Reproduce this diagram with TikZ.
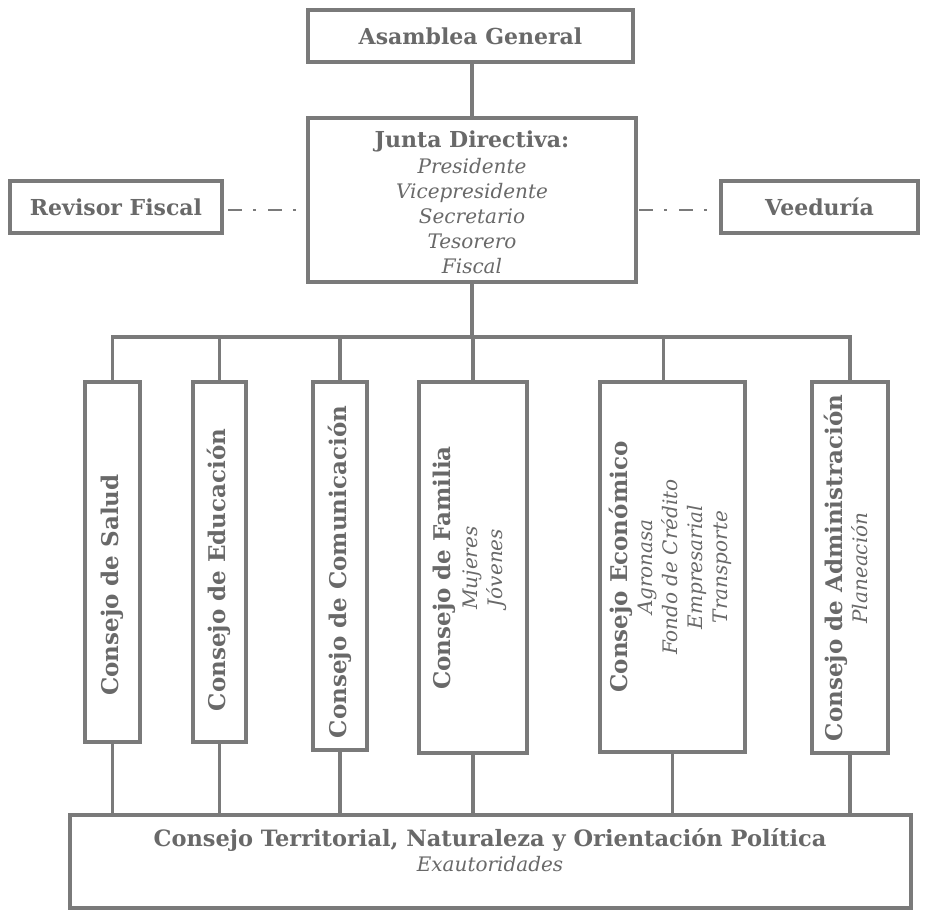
\documentclass[tikz,border=0pt]{standalone}
\usepackage{fontspec}
\setmainfont{DejaVu Serif}
\definecolor{linegray}{RGB}{122,122,122}
\definecolor{textgray}{RGB}{105,105,105}
\tikzset{
  box/.style={draw=linegray, line width=3.7pt, fill=white, inner sep=0pt, outer sep=0pt, rectangle},
  conn/.style={draw=linegray, line width=3.7pt},
  dashdotconn/.style={draw=linegray, line width=2.5pt, dash pattern=on 14pt off 11pt on 3pt off 12pt},
  ttl/.style={text=textgray, font=\fontsize{22}{25}\selectfont\bfseries, align=center, inner sep=0pt},
  vtxt/.style={text=textgray, font=\fontsize{23}{25}\selectfont, align=center, inner sep=0pt, rotate=90},
}
\newcommand{\sub}[1]{{\fontsize{20}{24}\selectfont\mdseries\itshape #1}}
\begin{document}
\begin{tikzpicture}[x=1pt,y=-1pt]
\useasboundingbox (0,0) rectangle (928,911);
% boxes
\node[box, minimum width=325pt, minimum height=52pt] (asamblea) at (470.5,36) {};
\node[box, minimum width=328pt, minimum height=164pt] (junta) at (472,200) {};
\node[box, minimum width=212pt, minimum height=52pt] (revisor) at (116,207) {};
\node[box, minimum width=197pt, minimum height=52pt] (veeduria) at (819.5,207) {};
\node[box, minimum width=55pt, minimum height=360pt] (salud) at (112.5,562) {};
\node[box, minimum width=53pt, minimum height=360pt] (educ) at (219.5,562) {};
\node[box, minimum width=54pt, minimum height=368pt] (comun) at (340,566) {};
\node[box, minimum width=108pt, minimum height=371pt] (familia) at (473,567.5) {};
\node[box, minimum width=145pt, minimum height=370pt] (econ) at (672.5,567) {};
\node[box, minimum width=76pt, minimum height=371pt] (admin) at (850,567.5) {};
\node[box, minimum width=841pt, minimum height=93pt] (terr) at (490.5,861.5) {};
% texts
\node[ttl] (tasamblea) at (asamblea.center) {Asamblea General};
\node[ttl, anchor=north] (tjunta) at (472,131) {Junta Directiva:\\[1pt]\sub{Presidente}\\\sub{Vicepresidente}\\\sub{Secretario}\\\sub{Tesorero}\\\sub{Fiscal}};
\node[ttl] (trevisor) at (revisor.center) {Revisor Fiscal};
\node[ttl] (tveeduria) at (veeduria.center) {Veeduría};
\node[vtxt, font=\fontsize{23}{25}\selectfont\bfseries] (tsalud) at (112,585) {Consejo de Salud};
\node[vtxt, font=\fontsize{23}{25}\selectfont\bfseries] (teduc) at (219,570) {Consejo de Educación};
\node[vtxt, font=\fontsize{23}{25}\selectfont\bfseries] (tcomun) at (340,572) {Consejo de Comunicación};
\node[vtxt] (tfamilia) at (470,568) {\textbf{Consejo de Familia}\\[2pt]\sub{Mujeres}\\\sub{Jóvenes}};
\node[vtxt] (tecon) at (670,567) {\textbf{Consejo Económico}\\\sub{Agronasa}\\\sub{Fondo de Crédito}\\\sub{Empresarial}\\\sub{Transporte}};
\node[vtxt] (tadmin) at (846,568) {\textbf{Consejo de Administración}\\\sub{Planeación}};
\node[ttl, anchor=north, font=\fontsize{22.5}{25}\selectfont\bfseries] (tterr) at (490,828) {Consejo Territorial, Naturaleza y Orientación Política\\\sub{Exautoridades}};
% connectors
\coordinate (bus) at (472,337);
\draw[conn] (junta.north |- asamblea.south) -- (junta.north);
\draw[conn] (junta.south) -- (bus);
\draw[conn] (salud.north) -- (salud.north |- bus) -- (admin.north |- bus) -- (admin.north);
\draw[conn] (educ.north) -- (educ.north |- bus);
\draw[conn] (comun.north) -- (comun.north |- bus);
\draw[conn] (familia.north) -- (familia.north |- bus);
\draw[conn] ([xshift=-9pt]econ.north) -- ([xshift=-9pt]econ.north |- bus);
\foreach \n in {salud,educ,comun,familia,econ,admin}
  \draw[conn] (\n.south) -- (\n.south |- terr.north);
\draw[dashdotconn, shorten <=6pt, shorten >=3pt] (revisor.east |- 0,210) -- (junta.west |- 0,210);
\draw[dashdotconn, shorten <=3pt, shorten >=3pt] (junta.east |- 0,210) -- (veeduria.west |- 0,210);
\end{tikzpicture}
\end{document}
